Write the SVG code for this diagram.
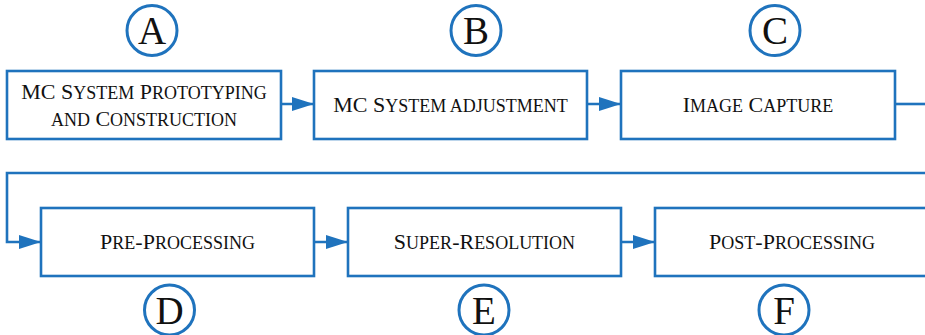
<svg xmlns="http://www.w3.org/2000/svg" width="925" height="335" viewBox="0 0 925 335">
<defs>
<marker id="ah" markerWidth="22" markerHeight="14" refX="22" refY="7" orient="auto" markerUnits="userSpaceOnUse">
<path d="M0,0 L22,7 L0,14 Z" fill="#1f73bd"/>
</marker>
<style>
.box{fill:#fff;stroke:#1f73bd;stroke-width:2.6}
.circ{fill:#fff;stroke:#1f73bd;stroke-width:3}
.lbl{font-family:"Liberation Serif","DejaVu Serif",serif;font-size:22px;fill:#111;text-anchor:middle}
.s{font-size:18px}
.let{font-family:"Liberation Serif","DejaVu Serif",serif;font-size:39px;fill:#111;text-anchor:middle}
.con{fill:none;stroke:#1f73bd;stroke-width:2.6}
</style>
</defs>
<rect width="925" height="335" fill="#fff"/>
<g id="connectors">
<line class="con" x1="281" y1="104" x2="314" y2="104" marker-end="url(#ah)"/>
<line class="con" x1="587" y1="104" x2="621" y2="104" marker-end="url(#ah)"/>
<line class="con" x1="895" y1="104" x2="926" y2="104"/>
<polyline class="con" points="926,173 7,173 7,242 41,242" marker-end="url(#ah)"/>
<line class="con" x1="314" y1="242" x2="348" y2="242" marker-end="url(#ah)"/>
<line class="con" x1="621" y1="242" x2="655" y2="242" marker-end="url(#ah)"/>
</g>
<g id="nodeA">
<rect class="box" x="7" y="71" width="274" height="68"/>
<text class="lbl" x="144" y="99">MC S<tspan class="s">YSTEM</tspan> P<tspan class="s">ROTOTYPING</tspan></text>
<text class="lbl" x="144" y="126"><tspan class="s">AND</tspan> C<tspan class="s">ONSTRUCTION</tspan></text>
</g>
<g id="nodeB">
<rect class="box" x="314" y="71" width="273" height="68"/>
<text class="lbl" x="450.5" y="112">MC S<tspan class="s">YSTEM ADJUSTMENT</tspan></text>
</g>
<g id="nodeC">
<rect class="box" x="621" y="71" width="274" height="68"/>
<text class="lbl" x="758" y="112">I<tspan class="s">MAGE</tspan> C<tspan class="s">APTURE</tspan></text>
</g>
<g id="nodeD">
<rect class="box" x="41" y="208" width="273" height="68"/>
<text class="lbl" x="177.5" y="249">P<tspan class="s">RE</tspan>-P<tspan class="s">ROCESSING</tspan></text>
</g>
<g id="nodeE">
<rect class="box" x="348" y="208" width="273" height="68"/>
<text class="lbl" x="484.5" y="249">S<tspan class="s">UPER</tspan>-R<tspan class="s">ESOLUTION</tspan></text>
</g>
<g id="nodeF">
<rect class="box" x="655" y="208" width="274" height="68"/>
<text class="lbl" x="792" y="249">P<tspan class="s">OST</tspan>-P<tspan class="s">ROCESSING</tspan></text>
</g>
<g id="labelA"><circle class="circ" cx="152" cy="30.5" r="25"/><text class="let" x="152" y="44">A</text></g>
<g id="labelB"><circle class="circ" cx="476" cy="30.5" r="25"/><text class="let" x="476" y="44">B</text></g>
<g id="labelC"><circle class="circ" cx="775" cy="30.5" r="25"/><text class="let" x="775" y="44">C</text></g>
<g id="labelD"><circle class="circ" cx="169.5" cy="310" r="25"/><text class="let" x="169.5" y="323.5">D</text></g>
<g id="labelE"><circle class="circ" cx="484" cy="310" r="25"/><text class="let" x="484" y="323.5">E</text></g>
<g id="labelF"><circle class="circ" cx="784" cy="310" r="25"/><text class="let" x="784" y="323.5">F</text></g>
</svg>
